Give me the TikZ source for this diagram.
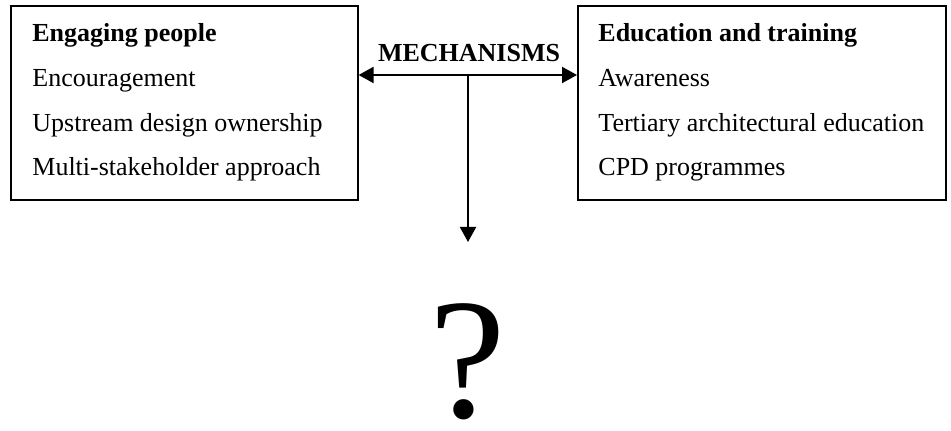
\documentclass[tikz,border=0pt]{standalone}
\usepackage{fontspec}
\setmainfont{Liberation Serif}
\usetikzlibrary{arrows.meta}

\begin{document}
\begin{tikzpicture}[x=0.5pt,y=-0.5pt,
  box/.style={draw, line width=0.8pt, minimum width=#1, minimum height=97pt, anchor=north west, inner sep=0pt},
  entry/.style={anchor=base west, inner sep=0pt, font=\fontsize{13}{15}\selectfont},
  link/.style={line width=1pt, -{Triangle[length=7.5pt,width=8pt]}}]
\useasboundingbox (0,0) rectangle (951,431);
% the two boxes
\node [box=173.5pt] (eng) at (10,5) {};
\node [box=184pt] (edu) at (577,5) {};
% left box
\node [entry] (l1) at (32,42) {\textbf{Engaging people}};
\node [entry] (l2) at (32,87) {Encouragement};
\node [entry] (l3) at (32,132) {Upstream design ownership};
\node [entry] (l4) at (32,176) {Multi-stakeholder approach};
% right box
\node [entry] (r1) at (598,42) {\textbf{Education and training}};
\node [entry] (r2) at (598,87) {Awareness};
\node [entry] (r3) at (598,132) {Tertiary architectural education};
\node [entry] (r4) at (598,176) {CPD programmes};
% mechanisms
\node [anchor=base, inner sep=0pt, font=\fontsize{13}{15}\selectfont\bfseries] (mech) at (469,62) {MECHANISMS};
\coordinate (hub) at (468,75);
\coordinate (tip) at (468,242);
\node [anchor=base, inner sep=0pt, font=\fontsize{86}{90}\selectfont] (q) at (468,418) {?};
\draw [link, {Triangle[length=7.5pt,width=8pt]}-{Triangle[length=7.5pt,width=8pt]}] (eng.east |- hub) -- (edu.west |- hub);
\draw [link] (hub) -- (tip);
\end{tikzpicture}
\end{document}
